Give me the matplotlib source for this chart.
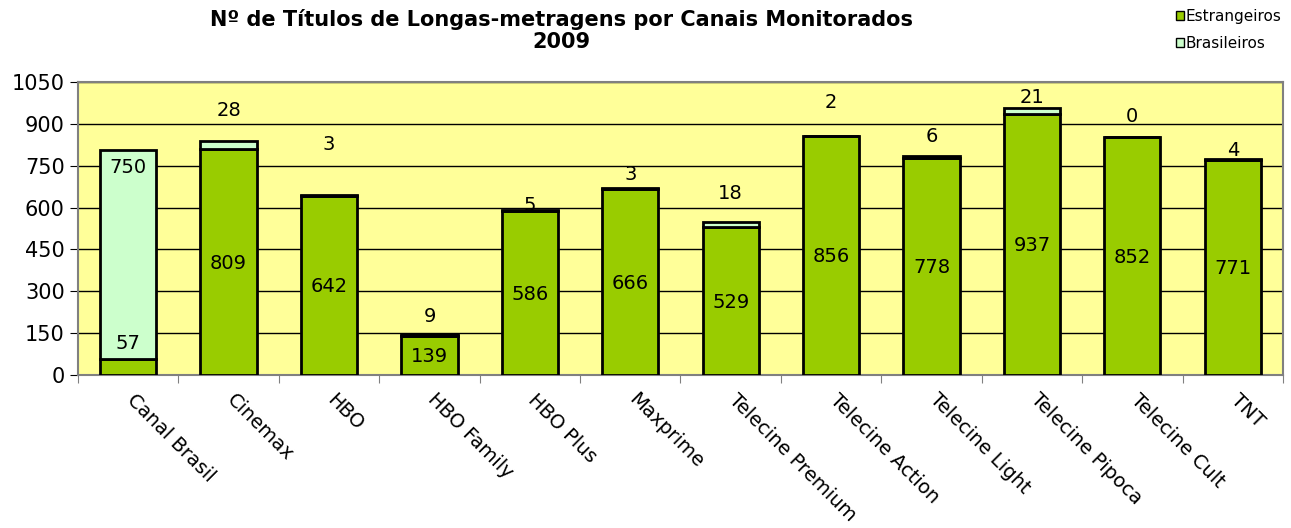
import matplotlib
matplotlib.use("Agg")
import matplotlib.pyplot as plt
import numpy as np
from matplotlib.patches import Patch

canais = ["Canal Brasil", "Cinemax", "HBO", "HBO Family", "HBO Plus", "Maxprime",
          "Telecine Premium", "Telecine Action", "Telecine Light", "Telecine Pipoca",
          "Telecine Cult", "TNT"]
estrangeiros = [57, 809, 642, 139, 586, 666, 529, 856, 778, 937, 852, 771]
brasileiros = [750, 28, 3, 9, 5, 3, 18, 2, 6, 21, 0, 4]

# where the labels sit (as in the original, they were moved by hand)
lbl_br_off = [-65, 110, 180, 63, 18, 51, 102, 117, 69, 38, 73, 28]

verde = "#99CC00"
verde_claro = "#CCFFCC"

plt.rcParams['font.family'] = ['DejaVu Sans']

fig = plt.figure(figsize=(12.91, 5.28), dpi=100)
ax = fig.add_axes([0.0604, 0.2898, 0.9334, 0.5549])
ax.set_facecolor("#FFFF99")

x = np.arange(len(canais))
ax.bar(x, estrangeiros, width=0.56, color=verde, edgecolor="black", linewidth=2, zorder=3)
ax.bar(x, brasileiros, width=0.56, bottom=estrangeiros, color=verde_claro,
       edgecolor="black", linewidth=2, zorder=3)

for i in range(len(canais)):
    e = estrangeiros[i]
    b = brasileiros[i]
    ye = e / 2 - 5 if i > 0 else e + 55
    ax.text(x[i], ye, str(e), ha="center", va="center", fontsize=14, zorder=4)
    ax.text(x[i], e + b + lbl_br_off[i], str(b), ha="center", va="center", fontsize=14, zorder=4)

ax.set_xlim(-0.5, len(canais) - 0.5)
ax.set_ylim(0, 1050)
ax.set_yticks(np.arange(0, 1051, 150))
ax.yaxis.grid(True, color="black", linewidth=1)
ax.set_axisbelow(True)
ax.tick_params(axis="y", labelsize=15, length=6, color="black", direction="out")

ax.set_xticks(np.arange(-0.5, len(canais), 1))
ax.set_xticklabels([])
ax.tick_params(axis="x", length=6, color="#808080", direction="out")
for i, nome in enumerate(canais):
    ax.text(x[i] + 0.08, -54, nome, rotation=-45, ha="left", va="top",
            rotation_mode="anchor", fontsize=14, transform=ax.transData)

for s in ax.spines.values():
    s.set_color("#808080")
    s.set_linewidth(1.5)

fig.text(561 / 1291, 1 - 20 / 528, "Nº de Títulos de Longas-metragens por Canais Monitorados",
         ha="center", va="center", fontsize=15, fontweight="bold")
fig.text(561 / 1291, 1 - 42 / 528, "2009", ha="center", va="center",
         fontsize=15, fontweight="bold")

handles = [Patch(facecolor=verde, edgecolor="black"), Patch(facecolor=verde_claro, edgecolor="black")]
fig.legend(handles, ["Estrangeiros", "Brasileiros"], loc="upper right",
           bbox_to_anchor=(1.0, 1.0), frameon=False, fontsize=11,
           handlelength=0.55, handleheight=0.55, handletextpad=0.1, labelspacing=0.75,
           borderaxespad=0.2)

fig.savefig("out.png", dpi=100)
